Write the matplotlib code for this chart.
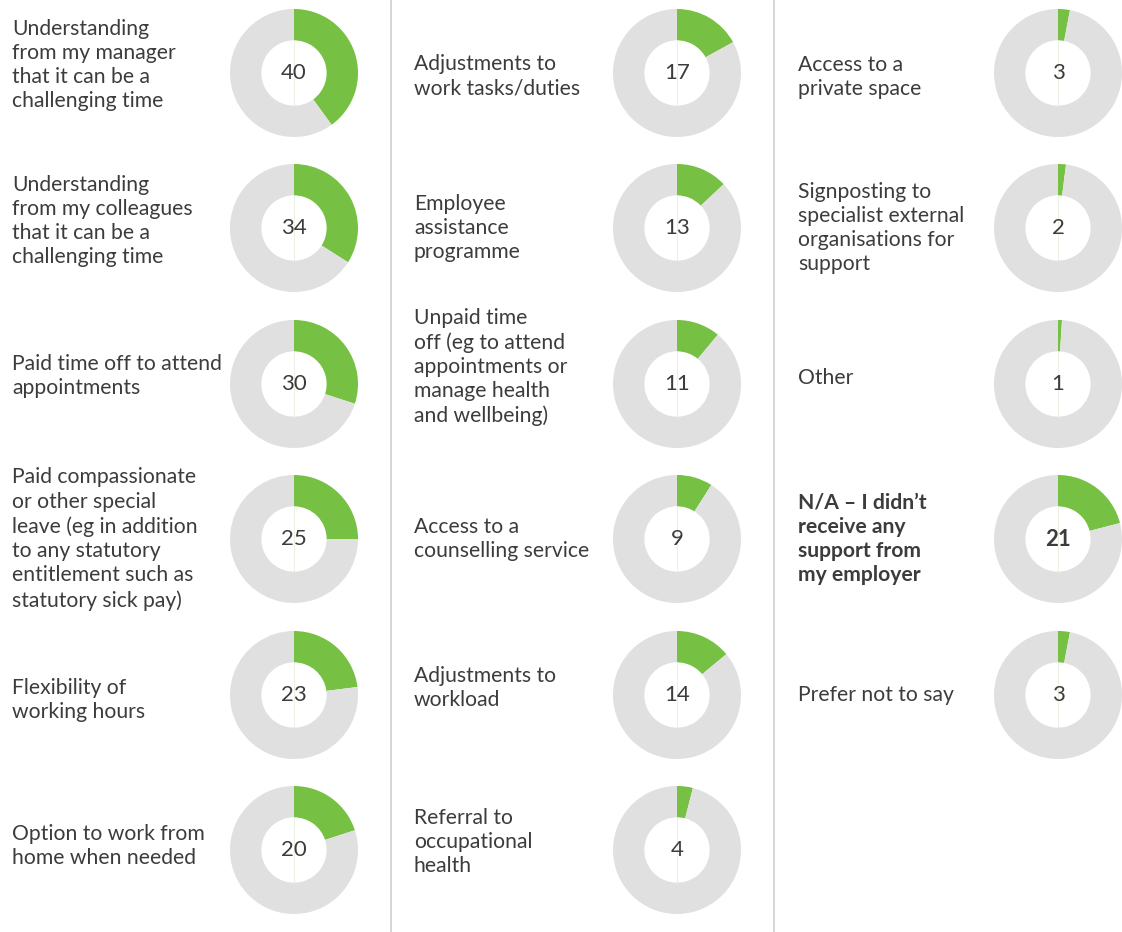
import matplotlib.pyplot as plt

W, H = 1122, 932

# share of respondents (%) for each kind of employer support, by column
col1_labels = [
    "Understanding\nfrom my manager\nthat it can be a\nchallenging time",
    "Understanding\nfrom my colleagues\nthat it can be a\nchallenging time",
    "Paid time off to attend\nappointments",
    "Paid compassionate\nor other special\nleave (eg in addition\nto any statutory\nentitlement such as\nstatutory sick pay)",
    "Flexibility of\nworking hours",
    "Option to work from\nhome when needed",
]
col1_values = [40, 34, 30, 25, 23, 20]

col2_labels = [
    "Adjustments to\nwork tasks/duties",
    "Employee\nassistance\nprogramme",
    "Unpaid time\noff (eg to attend\nappointments or\nmanage health\nand wellbeing)",
    "Access to a\ncounselling service",
    "Adjustments to\nworkload",
    "Referral to\noccupational\nhealth",
]
col2_values = [17, 13, 11, 9, 14, 4]

col3_labels = [
    "Access to a\nprivate space",
    "Signposting to\nspecialist external\norganisations for\nsupport",
    "Other",
    "N/A – I didn’t\nreceive any\nsupport from\nmy employer",
    "Prefer not to say",
]
col3_values = [3, 2, 1, 21, 3]
bold_label = "N/A – I didn’t\nreceive any\nsupport from\nmy employer"

GREEN = "#76c043"
GREY = "#e0e0e0"
TEXT = "#3c3c3c"

plt.rcParams["font.family"] = ["Lato", "DejaVu Sans"]

fig = plt.figure(figsize=(W / 100, H / 100), dpi=100)
bg = fig.add_axes([0, 0, 1, 1])
bg.set_xlim(0, W)
bg.set_ylim(H, 0)
bg.axis("off")

# column dividers
for x in (391, 774):
    bg.plot([x, x], [0, H], color="#d0d0d0", lw=1.2)

row_y = [73, 228, 384, 539, 695, 850]
# small vertical nudges (px) for the label blocks, per column
nudge1 = [-8, -7, -8, 0, 5, -4]
nudge2 = [3, 0, -17, 0, -7, -8]
nudge3 = [4, 0, -6, 0, 0]
columns = [
    (12, 294, col1_labels, col1_values, nudge1),
    (414, 677, col2_labels, col2_values, nudge2),
    (798, 1058, col3_labels, col3_values, nudge3),
]
R = 64  # outer radius in px

for text_x, cx, labels, values, nudges in columns:
    for i, (lab, val) in enumerate(zip(labels, values)):
        cy = row_y[i]
        bold = lab == bold_label
        bg.text(text_x, cy + nudges[i], lab, ha="left", va="center",
                fontsize=15.2, color=TEXT, linespacing=1.27,
                fontweight="bold" if bold else "normal")
        ax = fig.add_axes([(cx - R) / W, 1 - (cy + R) / H, 2 * R / W, 2 * R / H])
        ax.pie([val, 100 - val], colors=[GREEN, GREY], startangle=90,
               counterclock=False, radius=1.0,
               wedgeprops=dict(width=0.49, linewidth=0))
        ax.set_xlim(-1, 1)
        ax.set_ylim(-1, 1)
        ax.plot([0, 0], [-0.51, 0.51], color="#e6eedf", lw=0.6)
        ax.text(0, 0, str(val), ha="center", va="center", fontsize=16,
                color=TEXT, fontweight="bold" if bold else "normal")

fig.savefig("out.png", dpi=100)
